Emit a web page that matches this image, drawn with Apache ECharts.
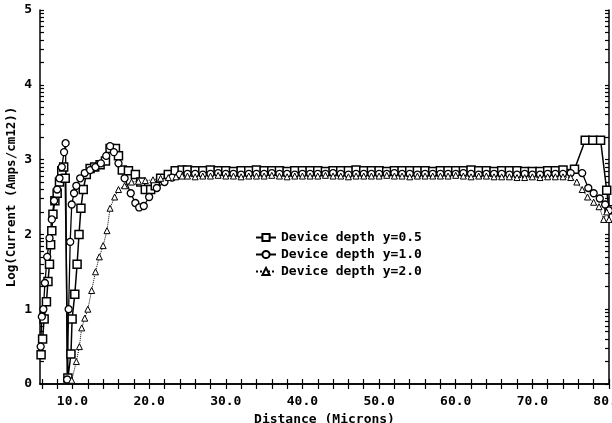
<!DOCTYPE html>
<html>
<head>
  <meta charset="utf-8">
  <title>Device depth current</title>
  <style>
    body { margin: 0; background: #fff; }
    #chart { width: 612px; height: 423px; }
  </style>
  <script src="https://cdn.jsdelivr.net/npm/echarts@6/dist/echarts.min.js"></script>
</head>
<body>
  <div id="chart"></div>
  <script>
    // x tick labels and tick positions
    var xLabels = [10, 20, 30, 40, 50, 60, 70, 80];
    var xTicks = [6, 8, 10, 12, 14, 16, 18, 20, 22, 24, 26, 28, 30, 32, 34, 36, 38, 40, 42, 44, 46, 48, 50,
      52, 54, 56, 58, 60, 62, 64, 66, 68, 70, 72, 74, 76, 78, 80];
    var yLabels = [0, 1, 2, 3, 4, 5];
    var yTicks = [];
    for (var n = 0; n < 5; n++) {
      for (var k = 1; k < 10; k++) yTicks.push(n + Math.log10(k));
    }
    yTicks.push(5);

    // shared x positions along the plateau
    var flatX = [25, 26, 27, 28, 29, 30, 31, 32, 33, 34, 35, 36, 37, 38, 39, 40, 41, 42, 43, 44, 45, 46, 47, 48, 49,
      50, 51, 52, 53, 54, 55, 56, 57, 58, 59, 60, 61, 62, 63, 64, 65, 66, 67, 68, 69, 70, 71, 72, 73, 74];

    // Device depth y=0.5 (squares)
    var sqHeadX = [5.9, 6.1, 6.3, 6.6, 6.8, 7.0, 7.15, 7.3, 7.45, 7.7, 8.0, 8.3, 8.6, 8.85, 9.05, 9.4, 9.8, 9.95,
      10.3, 10.6, 10.85, 11.1, 11.4, 11.8, 12.3, 12.9, 13.6, 14.3, 14.9, 15.6, 16.0, 16.5, 17.3, 18.2, 18.9,
      19.5, 20.2, 20.8, 21.5, 22.5, 23.4, 24.3];
    var sqHeadY = [0.39, 0.6, 0.87, 1.1, 1.37, 1.6, 1.86, 2.05, 2.27, 2.45, 2.55, 2.7, 2.85, 2.9, 2.75, 0.08, 0.4, 0.87,
      1.2, 1.6, 2.0, 2.35, 2.6, 2.8, 2.88, 2.9, 2.93, 2.98, 3.15, 3.15, 3.05, 2.86, 2.85, 2.8, 2.7,
      2.6, 2.6, 2.65, 2.75, 2.8, 2.85, 2.86];
    var sqFlatY = [2.86, 2.85, 2.85, 2.86, 2.85, 2.85, 2.84, 2.85, 2.85, 2.86, 2.85, 2.85, 2.85, 2.84, 2.85, 2.85, 2.85, 2.85, 2.84, 2.85,
      2.85, 2.85, 2.86, 2.85, 2.85, 2.85, 2.84, 2.85, 2.85, 2.85, 2.85, 2.85, 2.84, 2.85, 2.85, 2.85, 2.85, 2.86, 2.85, 2.85,
      2.84, 2.85, 2.85, 2.85, 2.84, 2.84, 2.84, 2.85, 2.85, 2.86];
    var sqTailX = [75.5, 76.9, 77.9, 78.9, 79.7, 80];
    var sqTailY = [2.87, 3.26, 3.26, 3.26, 2.59, 2.33];

    // Device depth y=1.0 (circles)
    var ciHeadX = [5.85, 6.0, 6.2, 6.4, 6.7, 7.0, 7.3, 7.6, 8.0, 8.3, 8.6, 8.9, 9.1, 9.3, 9.5, 9.7, 9.9, 10.2, 10.5,
      11.0, 11.6, 12.3, 13.0, 13.7, 14.4, 14.9, 15.4, 16.0, 16.8, 17.6, 18.2, 18.7, 19.3, 20.0, 21.0, 22.0, 23.0, 24.0];
    var ciHeadY = [0.5, 0.9, 1.0, 1.35, 1.7, 1.95, 2.2, 2.45, 2.6, 2.75, 2.9, 3.1, 3.22, 0.06, 1.0, 1.9, 2.4, 2.55, 2.65,
      2.75, 2.82, 2.86, 2.9, 2.95, 3.05, 3.18, 3.1, 2.95, 2.75, 2.55, 2.42, 2.36, 2.38, 2.5, 2.62, 2.7, 2.76, 2.8];
    var ciFlatY = [2.81, 2.81, 2.8, 2.81, 2.82, 2.81, 2.81, 2.8, 2.81, 2.81, 2.81, 2.82, 2.81, 2.81, 2.8, 2.81, 2.81, 2.81, 2.81, 2.82,
      2.81, 2.8, 2.81, 2.81, 2.81, 2.81, 2.81, 2.82, 2.81, 2.81, 2.8, 2.81, 2.81, 2.81, 2.81, 2.81, 2.82, 2.81, 2.8, 2.81,
      2.81, 2.81, 2.8, 2.8, 2.81, 2.8, 2.8, 2.81, 2.81, 2.81];
    var ciTailX = [75, 76.5, 77.3, 78, 78.8, 79.5, 80];
    var ciTailY = [2.82, 2.82, 2.62, 2.55, 2.48, 2.4, 2.32];

    // Device depth y=2.0 (triangles)
    var trHeadX = [9.9, 10.5, 10.9, 11.2, 11.6, 12.0, 12.5, 13.0, 13.5, 14.0, 14.5, 14.9, 15.5, 16.0, 16.8, 17.7,
      18.6, 19.5, 20.5, 21.5, 22.5, 23.5, 24.3];
    var trHeadY = [0.05, 0.3, 0.5, 0.75, 0.88, 1.0, 1.25, 1.5, 1.7, 1.85, 2.05, 2.35, 2.5, 2.6, 2.65, 2.7,
      2.71, 2.72, 2.73, 2.75, 2.76, 2.77, 2.78];
    var trFlatY = [2.78, 2.77, 2.78, 2.78, 2.79, 2.78, 2.78, 2.77, 2.78, 2.78, 2.78, 2.79, 2.78, 2.77, 2.78, 2.78, 2.78, 2.78, 2.79, 2.78,
      2.78, 2.77, 2.78, 2.78, 2.78, 2.78, 2.79, 2.78, 2.78, 2.77, 2.78, 2.78, 2.78, 2.78, 2.78, 2.79, 2.78, 2.77, 2.78, 2.78,
      2.77, 2.77, 2.77, 2.76, 2.76, 2.77, 2.76, 2.77, 2.77, 2.77];
    var trTailX = [75, 75.8, 76.5, 77.2, 78, 78.7, 79.3, 79.7, 80];
    var trTailY = [2.76, 2.7, 2.6, 2.5, 2.43, 2.37, 2.2, 2.3, 2.2];

    function pairs(xs, ys) {
      var out = [];
      for (var i = 0; i < xs.length; i++) out.push([xs[i], ys[i]]);
      return out;
    }
    function join(hx, hy, fy, tx, ty) {
      return pairs(hx, hy).concat(pairs(flatX, fy), pairs(tx, ty));
    }

    var FONT = 'DejaVu Sans Mono';
    var frame = { lineStyle: { color: '#000', width: 1.5 } };
    var tickLine = { color: '#000', width: 1.2 };

    var chart = echarts.init(document.getElementById('chart'));
    chart.setOption({
      animation: false,
      backgroundColor: '#fff',
      grid: { left: 40, right: 3, top: 10, bottom: 39, outerBoundsMode: 'none', containLabel: false },
      legend: {
        orient: 'vertical',
        left: 250,
        top: 226,
        itemWidth: 20,
        itemHeight: 9,
        itemGap: 4,
        textStyle: { fontFamily: FONT, fontWeight: 'bold', fontSize: 13, color: '#000' },
        data: ['Device depth y=0.5', 'Device depth y=1.0', 'Device depth y=2.0']
      },
      xAxis: [{
        type: 'value', min: 5.76, max: 80,
        name: 'Distance (Microns)', nameLocation: 'middle', nameGap: 27,
        nameTextStyle: { fontFamily: FONT, fontWeight: 'bold', fontSize: 13, color: '#000' },
        axisLine: frame,
        splitLine: { show: false },
        axisTick: { inside: true, length: 5, customValues: xTicks, lineStyle: tickLine },
        axisLabel: {
          customValues: xLabels, margin: 11,
          fontFamily: FONT, fontWeight: 'bold', fontSize: 13, color: '#000',
          formatter: function (v) { return v.toFixed(1); }
        }
      }, {
        type: 'value', min: 5.76, max: 80, position: 'top',
        axisLine: frame, splitLine: { show: false },
        axisTick: { inside: true, length: 5, customValues: xTicks, lineStyle: tickLine },
        axisLabel: { show: false }
      }],
      yAxis: [{
        type: 'value', min: 0, max: 5, interval: 1,
        name: 'Log(Current (Amps/cm12))', nameLocation: 'middle', nameGap: 22,
        nameMoveOverlap: false,
        nameTextStyle: { fontFamily: FONT, fontWeight: 'bold', fontSize: 12.5, color: '#000' },
        axisLine: frame, splitLine: { show: false },
        axisTick: { inside: true, length: 4, customValues: yTicks, lineStyle: tickLine },
        axisLabel: {
          customValues: yLabels, margin: 8,
          fontFamily: FONT, fontWeight: 'bold', fontSize: 13, color: '#000'
        }
      }, {
        type: 'value', min: 0, max: 5, interval: 1, position: 'right',
        axisLine: frame, splitLine: { show: false },
        axisTick: { inside: true, length: 4, customValues: yTicks, lineStyle: tickLine },
        axisLabel: { show: false }
      }],
      series: [{
        name: 'Device depth y=0.5', type: 'line',
        data: join(sqHeadX, sqHeadY, sqFlatY, sqTailX, sqTailY),
        symbol: 'rect', symbolSize: 8,
        itemStyle: { color: '#fff', borderColor: '#000', borderWidth: 1.5 },
        lineStyle: { color: '#000', width: 1.5 }
      }, {
        name: 'Device depth y=1.0', type: 'line',
        data: join(ciHeadX, ciHeadY, ciFlatY, ciTailX, ciTailY),
        symbol: 'circle', symbolSize: 7,
        itemStyle: { color: '#fff', borderColor: '#000', borderWidth: 1.3 },
        lineStyle: { color: '#000', width: 1.3 }
      }, {
        name: 'Device depth y=2.0', type: 'line',
        data: join(trHeadX, trHeadY, trFlatY, trTailX, trTailY),
        symbol: 'triangle', symbolSize: 6,
        itemStyle: { color: '#fff', borderColor: '#000', borderWidth: 1 },
        lineStyle: { color: '#000', width: 1, type: 'dotted' }
      }]
    });
  </script>
</body>
</html>
